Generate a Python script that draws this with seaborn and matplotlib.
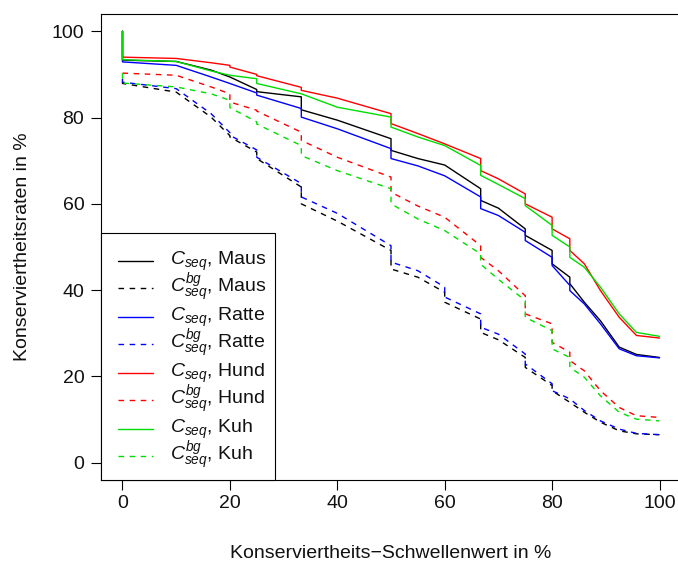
import numpy as np
import pandas as pd
import matplotlib
matplotlib.use("Agg")
import matplotlib.pyplot as plt
from matplotlib.lines import Line2D
from matplotlib.legend_handler import HandlerLine2D
import seaborn as sns

# Thresholds (%); repeated values mark the jumps of the step curves
schwelle = [0, 0, 10, 16.5, 20, 20, 25, 25, 33.3, 33.3, 40, 50, 50, 55, 60, 60,
            66.7, 66.7, 70, 75, 75, 80, 80, 83.3, 83.3, 86, 89, 92.5, 95.7, 100]

# Conservation rates (%) per species: C_seq and background C_seq^bg
maus = [100, 93.3, 93.0, 91.0, 89.4, 89.4, 86.5, 86.0, 84.8, 81.8, 79.4, 75.1, 72.4,
        70.5, 69.0, 69.0, 63.5, 60.8, 59.0, 54.2, 52.7, 49.2, 46.1, 43.0, 41.5,
        37.2, 32.9, 26.8, 25.1, 24.4]
maus_bg = [88.3, 87.9, 85.9, 80.1, 75.8, 75.5, 72.0, 70.5, 63.9, 60.0, 56.0, 49.2, 44.9,
           43.0, 39.5, 37.2, 33.3, 30.2, 28.5, 24.4, 22.1, 17.9, 16.7, 14.0, 14.0,
           11.7, 9.4, 7.4, 6.7, 6.5]
ratte = [100, 92.9, 92.1, 89.4, 87.9, 87.9, 85.7, 85.2, 82.1, 80.1, 77.4, 72.8, 70.5,
         68.8, 66.5, 66.5, 61.6, 58.9, 57.3, 53.4, 51.5, 47.6, 45.7, 41.1, 39.9,
         36.8, 32.2, 26.4, 24.8, 24.3]
ratte_bg = [89.0, 88.2, 86.7, 80.9, 76.5, 75.9, 72.5, 70.8, 64.7, 61.6, 57.8, 50.3, 46.5,
            44.5, 40.7, 38.4, 34.5, 31.4, 29.8, 25.2, 22.9, 18.3, 16.7, 14.8, 14.8,
            12.1, 9.7, 7.8, 6.8, 6.5]
hund = [100, 94.0, 93.7, 92.7, 92.1, 91.7, 90.0, 89.7, 87.0, 86.3, 84.5, 80.9, 78.6,
        76.3, 73.9, 73.9, 70.5, 67.7, 65.8, 62.3, 60.0, 56.9, 54.2, 51.9, 49.2,
        46.1, 39.9, 33.7, 29.5, 28.9]
hund_bg = [90.3, 90.3, 89.8, 87.1, 85.5, 83.6, 81.7, 81.5, 76.6, 74.7, 70.8, 66.2, 62.7,
           59.5, 56.9, 56.9, 50.3, 47.6, 44.5, 38.7, 34.5, 32.2, 27.9, 25.6, 23.7,
           21.3, 16.7, 12.8, 10.9, 10.5]
kuh = [100, 93.4, 93.0, 90.8, 89.8, 89.8, 89.0, 87.9, 85.5, 85.5, 82.4, 80.1, 77.8,
       75.5, 73.5, 73.5, 68.9, 66.6, 64.5, 61.2, 59.6, 55.0, 52.7, 50.0, 47.6,
       45.3, 40.7, 34.5, 30.2, 29.3]
kuh_bg = [90.3, 88.0, 87.1, 85.5, 84.0, 82.3, 79.0, 78.5, 73.5, 71.2, 67.7, 63.5, 60.0,
          56.5, 53.8, 53.8, 48.4, 46.0, 42.5, 37.6, 33.7, 30.6, 26.4, 24.4, 22.1,
          19.8, 15.5, 11.7, 10.1, 9.7]

arten = ["Maus", "Ratte", "Hund", "Kuh"]
farben = {"Maus": "black", "Ratte": "#0000FF", "Hund": "#FF0000", "Kuh": "#00DD00"}
werte = {"Maus": (maus, maus_bg), "Ratte": (ratte, ratte_bg),
         "Hund": (hund, hund_bg), "Kuh": (kuh, kuh_bg)}


class MittigeLinie(HandlerLine2D):
    """Legend line handle drawn at the height of the label's mid-line."""

    def create_artists(self, legend, orig_handle, xdescent, ydescent,
                       width, height, fontsize, trans):
        artists = super().create_artists(legend, orig_handle, xdescent, ydescent,
                                         width, height, fontsize, trans)
        for a in artists:
            if isinstance(a, Line2D):
                a.set_ydata(np.asarray(a.get_ydata()) - 0.26 * fontsize)
        return artists


sns.set_theme(style="white")
plt.rcParams["font.family"] = ["Liberation Sans", "DejaVu Sans"]
plt.rcParams["mathtext.fontset"] = "custom"
plt.rcParams["mathtext.rm"] = "Liberation Sans"
plt.rcParams["mathtext.it"] = "Liberation Sans:italic"
plt.rcParams["mathtext.bf"] = "Liberation Sans:bold"

FS = 14
W, H = 678, 567
fig = plt.figure(figsize=(W / 100, H / 100), dpi=100)
ax = fig.add_axes([101 / W, 87 / H, 580 / W, 466 / H])

for art in arten:
    c, c_bg = werte[art]
    df = pd.DataFrame({"x": schwelle, "c": c, "c_bg": c_bg})
    sns.lineplot(data=df, x="x", y="c", estimator=None, sort=False, ax=ax,
                 color=farben[art], linewidth=1.0,
                 label=r"$C_{seq}$, " + art)
    sns.lineplot(data=df, x="x", y="c_bg", estimator=None, sort=False, ax=ax,
                 color=farben[art], linewidth=1.0, dashes=(4, 4),
                 label=r"$C_{seq}^{bg}$, " + art)

ax.set_xlim(-4, 104)
ax.set_ylim(-4, 104)
ax.set_xticks([0, 20, 40, 60, 80, 100])
ax.set_yticks([0, 20, 40, 60, 80, 100])
ax.tick_params(axis="both", which="both", direction="out", length=7, width=0.8,
               color="black", labelsize=FS, labelcolor="#111111",
               bottom=True, left=True)
ax.tick_params(axis="x", pad=4)
ax.tick_params(axis="y", pad=5)
for name, s in ax.spines.items():
    s.set_visible(name != "right")
    s.set_color("black")
    s.set_linewidth(0.8)

ax.set_xlabel("Konserviertheits\u2212Schwellenwert in %", fontsize=FS, color="#111111")
ax.set_ylabel("Konserviertheitsraten in %", fontsize=FS, color="#111111")
ax.xaxis.label.set_va("center")
ax.yaxis.label.set_va("center")
ax.xaxis.set_label_coords(0.5, (480 - 554) / 466)
ax.yaxis.set_label_coords((22 - 101) / 580, 0.5)

handles, labels = ax.get_legend_handles_labels()
leg = ax.legend(handles, labels, loc="lower left", bbox_to_anchor=(0, 0),
                borderaxespad=0, fontsize=FS, frameon=True, fancybox=False,
                framealpha=1, edgecolor="black", handlelength=2.26,
                handletextpad=0.87, borderpad=0.42, handleheight=1.5,
                labelspacing=-0.07, title=" ", title_fontsize=5,
                handler_map={Line2D: MittigeLinie(xpad=0.46)})
leg.get_frame().set_linewidth(0.8)
for t in leg.get_texts():
    t.set_color("#111111")

fig.savefig("out.png", dpi=100)
